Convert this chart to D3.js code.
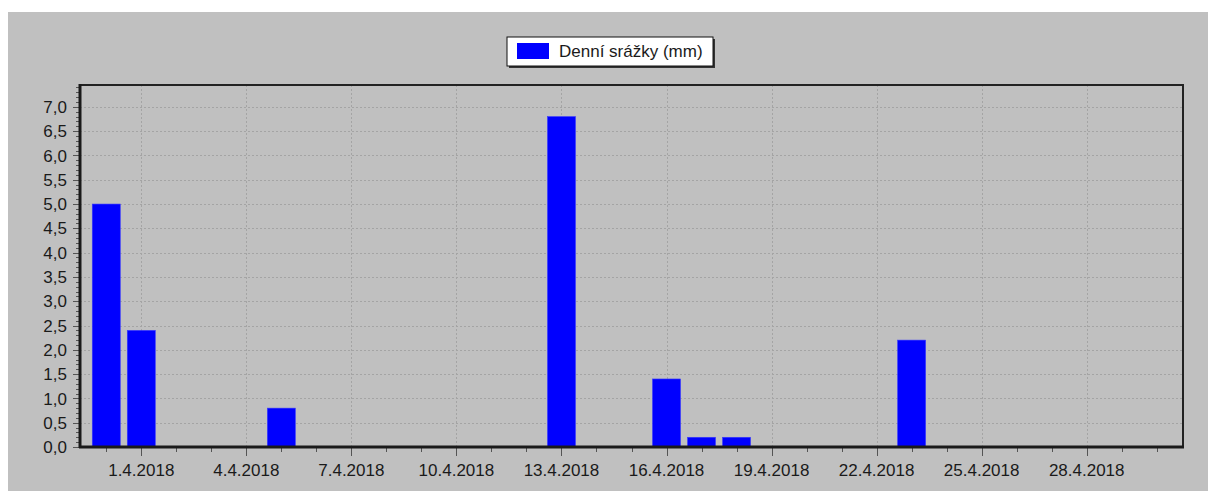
<!DOCTYPE html>
<html>
<head>
<meta charset="utf-8">
<script src="https://cdn.jsdelivr.net/npm/d3@7"></script>
<style>
  body { margin: 0; background: #fff; }
  svg { display: block; }
  text { font-family: "Liberation Sans", Arial, sans-serif; fill: #1a1a1a; }
</style>
</head>
<body>
<svg id="chart" width="1208" height="491"></svg>
<script>
// Data
var days = [
  '31.3.2018', '1.4.2018', '2.4.2018', '3.4.2018', '4.4.2018', '5.4.2018',
  '6.4.2018', '7.4.2018', '8.4.2018', '9.4.2018', '10.4.2018', '11.4.2018',
  '12.4.2018', '13.4.2018', '14.4.2018', '15.4.2018', '16.4.2018', '17.4.2018',
  '18.4.2018', '19.4.2018', '20.4.2018', '21.4.2018', '22.4.2018', '23.4.2018',
  '24.4.2018', '25.4.2018', '26.4.2018', '27.4.2018', '28.4.2018', '29.4.2018',
  '30.4.2018'
]
var rain = [
  5.0, 2.4, 0, 0, 0, 0.8,
  0, 0, 0, 0, 0, 0,
  0, 6.8, 0, 0, 1.4, 0.2,
  0.2, 0, 0, 0, 0, 2.2,
  0, 0, 0, 0, 0, 0,
  0
]
var xTickLabels = ['1.4.2018', '4.4.2018', '7.4.2018', '10.4.2018', '13.4.2018',
  '16.4.2018', '19.4.2018', '22.4.2018', '25.4.2018', '28.4.2018']
var yTicks = [0, 0.5, 1, 1.5, 2, 2.5, 3, 3.5, 4, 4.5, 5, 5.5, 6, 6.5, 7]
var seriesName = 'Denní srážky (mm)'

var parseDay = d3.utcParse('%d.%m.%Y')

var svg = d3.select('#chart')
var pLeft = 80, pRight = 1183, pTop = 85, pBottom = 447

// background panel
svg.append('rect').attr('x', 8).attr('y', 12).attr('width', 1200).attr('height', 479)
  .attr('fill', '#c0c0c0')

var x = d3.scaleUtc()
  .domain([Date.UTC(2018, 2, 30, 6), Date.UTC(2018, 3, 30, 18)])
  .range([pLeft, pRight])
var y = d3.scaleLinear().domain([0, 7.45]).range([pBottom, pTop])

var dayW = x(Date.UTC(2018, 3, 2)) - x(Date.UTC(2018, 3, 1))
var barW = dayW * 0.8

var fmt = function(v) { return d3.format('.1f')(v).replace('.', ',') }

// grid
var grid = svg.append('g').attr('stroke', '#a4a4a4').attr('stroke-width', 1)
  .attr('stroke-dasharray', '2,2')
grid.selectAll('.gy').data(yTicks.filter(function(v) { return v > 0 }))
  .enter().append('line')
  .attr('x1', pLeft).attr('x2', pRight)
  .attr('y1', function(d) { return Math.round(y(d)) + 0.5 })
  .attr('y2', function(d) { return Math.round(y(d)) + 0.5 })
grid.selectAll('.gx').data(xTickLabels).enter().append('line')
  .attr('x1', function(d) { return Math.round(x(parseDay(d))) + 0.5 })
  .attr('x2', function(d) { return Math.round(x(parseDay(d))) + 0.5 })
  .attr('y1', pTop).attr('y2', pBottom)

// bars
svg.append('g').selectAll('rect').data(rain).enter().append('rect')
  .attr('x', function(d, i) { return x(parseDay(days[i])) - barW / 2 })
  .attr('width', barW)
  .attr('y', function(d) { return y(d) })
  .attr('height', function(d) { return pBottom - y(d) })
  .attr('fill', '#0000ff')
  .attr('stroke', '#3a3aff')
  .attr('stroke-width', 0.6)

// y axis ticks (minor every 0.1)
var yMinor = d3.range(0, 75).map(function(i) { return i / 10 })
svg.append('g').attr('stroke', '#555').selectAll('line').data(yMinor).enter().append('line')
  .attr('x1', function(d, i) { return i % 5 === 0 ? pLeft - 7 : pLeft - 4 })
  .attr('x2', pLeft)
  .attr('y1', function(d) { return Math.round(y(d)) + 0.5 })
  .attr('y2', function(d) { return Math.round(y(d)) + 0.5 })

svg.append('g').selectAll('text').data(yTicks).enter().append('text')
  .attr('x', pLeft - 13)
  .attr('y', function(d) { return y(d) })
  .attr('dy', '0.36em')
  .attr('text-anchor', 'end')
  .attr('font-size', 17)
  .text(fmt)

// x axis ticks
var xMajor = xTickLabels.map(function(d) { return parseDay(d).getTime() })
svg.append('g').attr('stroke', '#555').selectAll('line').data(days).enter().append('line')
  .attr('x1', function(d) { return Math.round(x(parseDay(d))) + 0.5 })
  .attr('x2', function(d) { return Math.round(x(parseDay(d))) + 0.5 })
  .attr('y1', pBottom)
  .attr('y2', function(d) { return xMajor.indexOf(parseDay(d).getTime()) >= 0 ? pBottom + 9 : pBottom + 5 })

svg.append('g').selectAll('text').data(xTickLabels).enter().append('text')
  .attr('x', function(d) { return x(parseDay(d)) })
  .attr('y', 475.5)
  .attr('text-anchor', 'middle')
  .attr('font-size', 17)
  .text(function(d) { return d })

// frame
svg.append('path')
  .attr('d', 'M' + pLeft + ',' + pTop + 'H' + pRight + 'V' + pBottom)
  .attr('fill', 'none').attr('stroke', '#222').attr('stroke-width', 2)
svg.append('line').attr('x1', pLeft).attr('x2', pLeft).attr('y1', pTop - 1).attr('y2', pBottom + 1)
  .attr('stroke', '#1a1a1a').attr('stroke-width', 3)
svg.append('line').attr('x1', pLeft - 1).attr('x2', pRight + 1).attr('y1', pBottom).attr('y2', pBottom)
  .attr('stroke', '#1a1a1a').attr('stroke-width', 3)

// legend
var lg = svg.append('g')
lg.append('rect').attr('x', 509).attr('y', 39).attr('width', 206).attr('height', 29)
  .attr('fill', '#333')
lg.append('rect').attr('x', 507).attr('y', 37).attr('width', 206).attr('height', 29)
  .attr('fill', '#fff').attr('stroke', '#111').attr('stroke-width', 1)
lg.append('rect').attr('x', 517).attr('y', 43).attr('width', 32).attr('height', 16)
  .attr('fill', '#0000ff')
lg.append('text').attr('x', 559).attr('y', 57).attr('font-size', 17).text(seriesName)
</script>
</body>
</html>
